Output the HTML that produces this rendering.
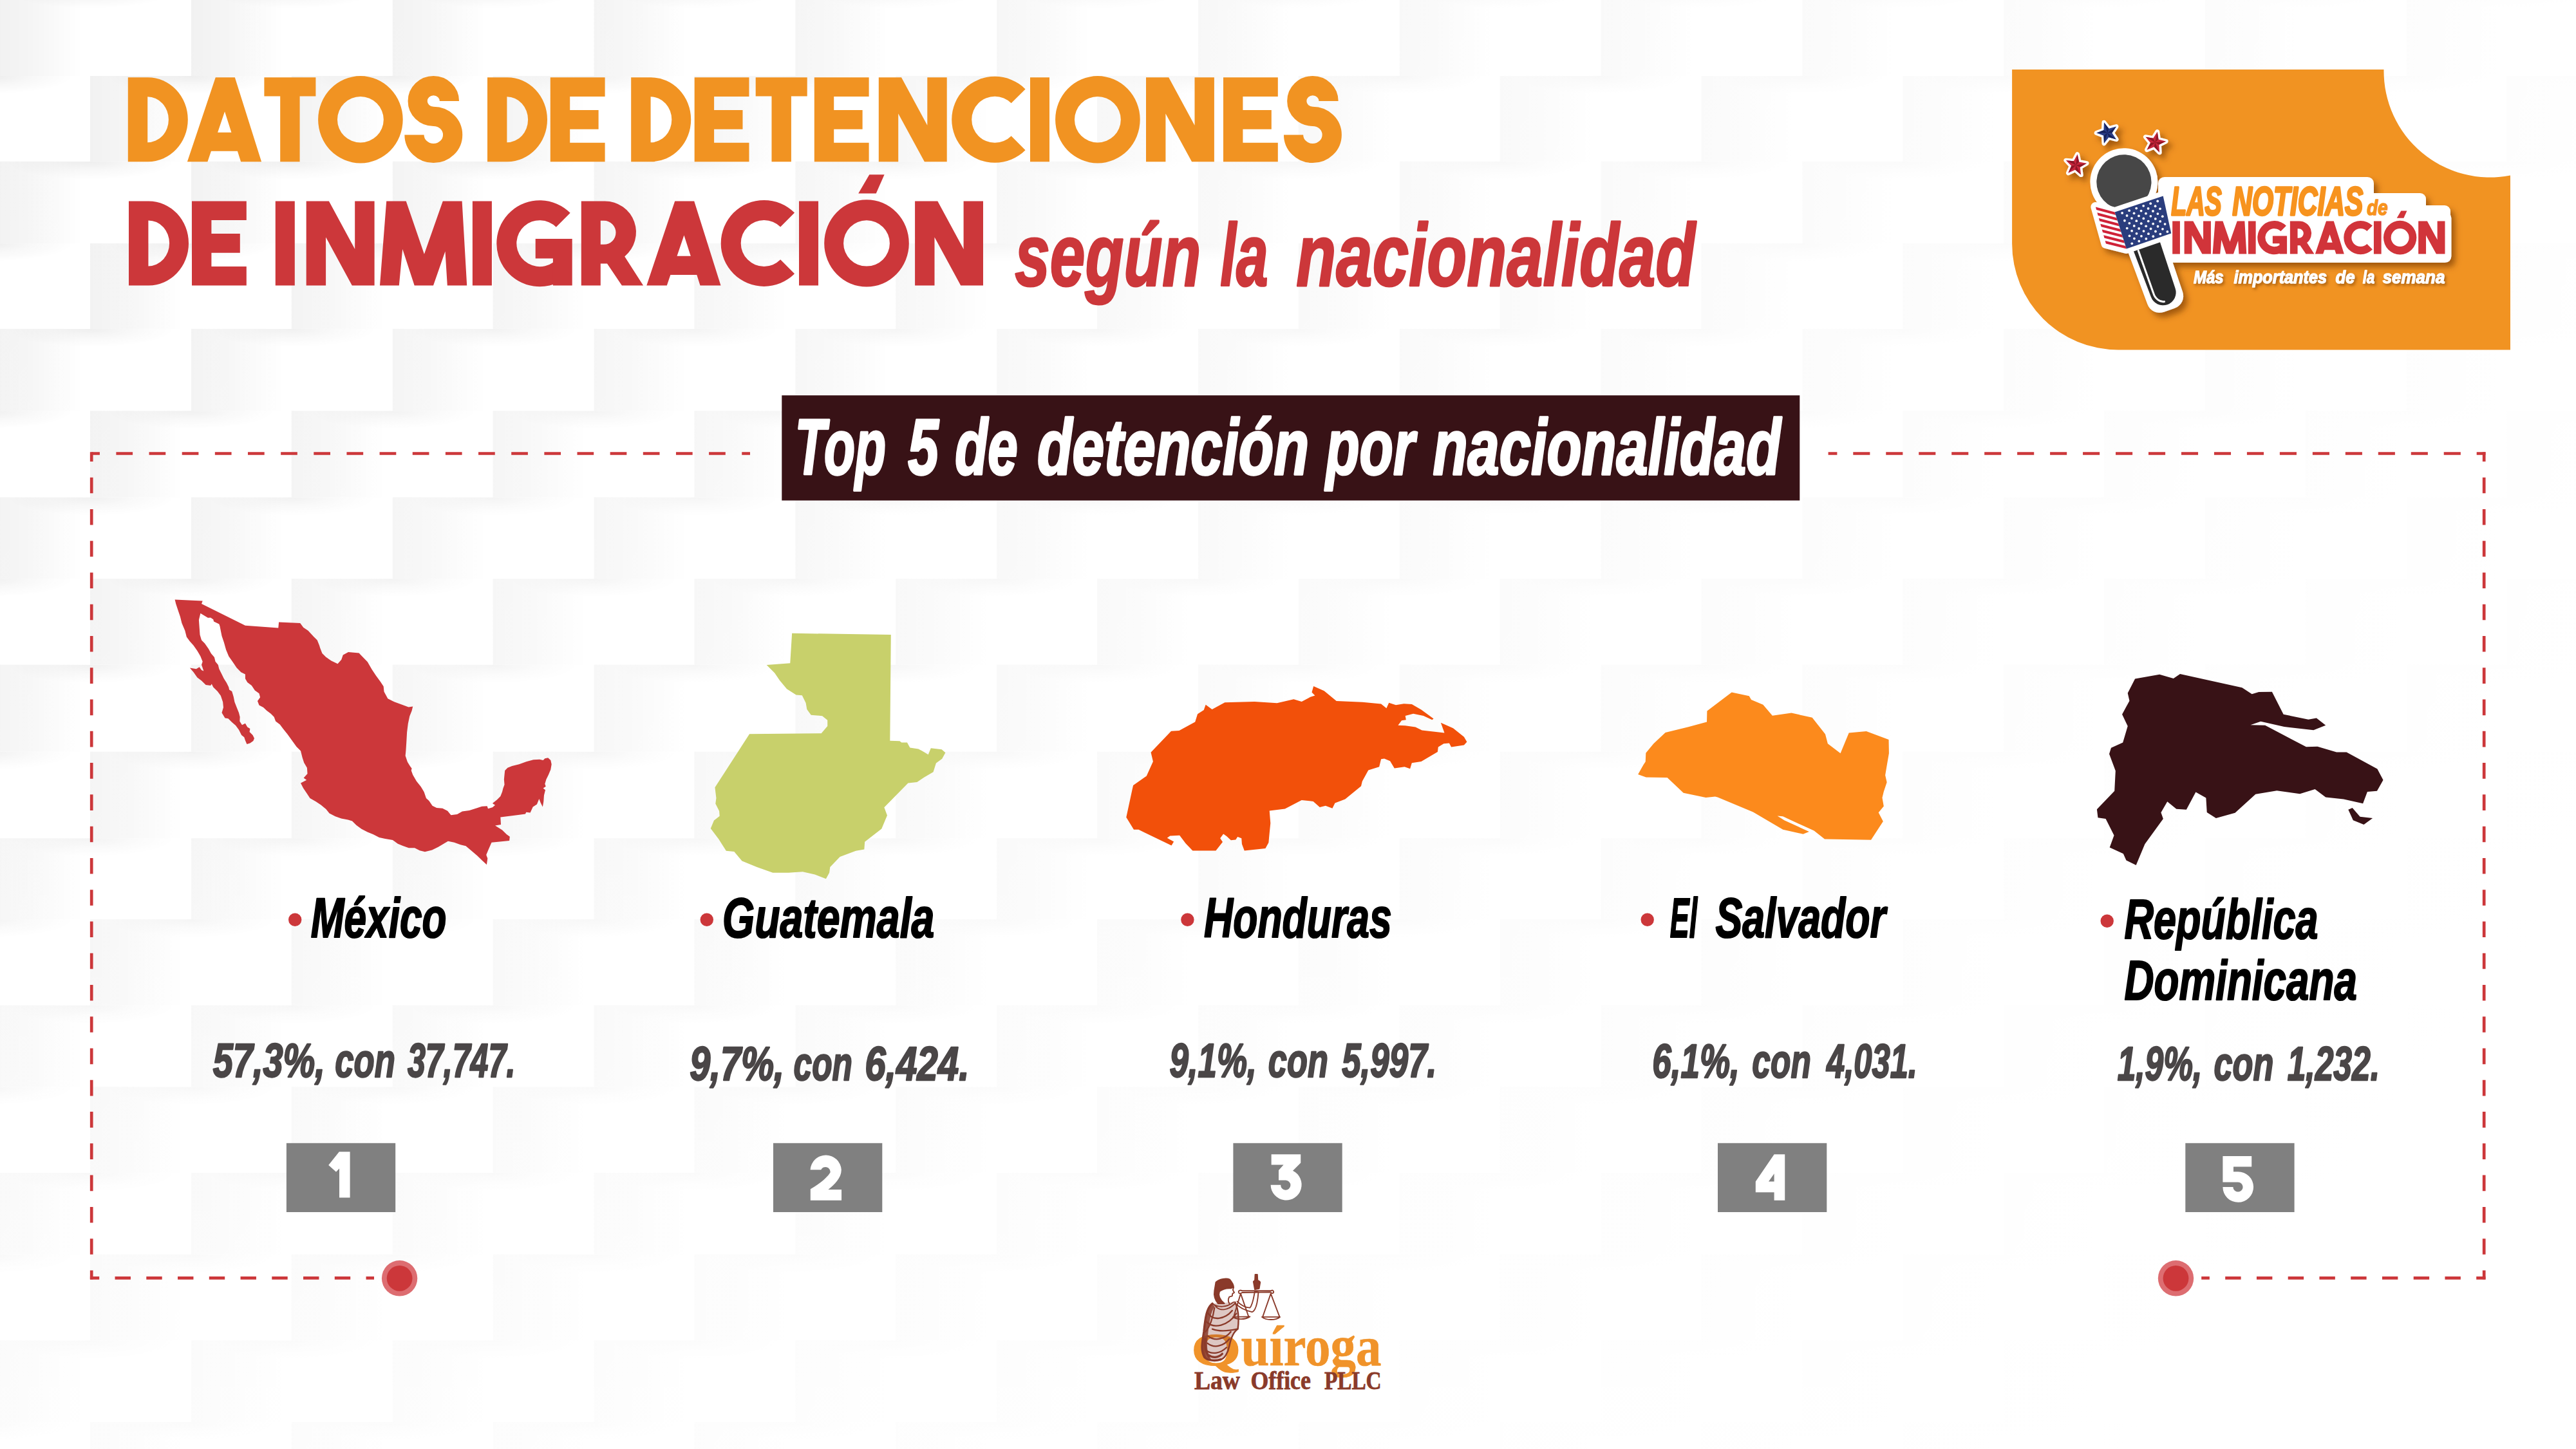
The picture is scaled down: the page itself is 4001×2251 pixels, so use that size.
<!DOCTYPE html>
<html lang="es"><head><meta charset="utf-8"><title>Datos de detenciones de inmigración</title>
<style>
html,body{margin:0;padding:0;background:#fff;}
body{width:4001px;height:2251px;overflow:hidden;font-family:"Liberation Sans",sans-serif;}
svg{display:block;}
</style></head><body>
<svg width="4001" height="2251" viewBox="0 0 4001 2251">
<defs>
<linearGradient id="gh" x1="0" y1="0" x2="1" y2="0"><stop offset="0" stop-color="#000" stop-opacity="0.058"/><stop offset="0.2" stop-color="#000" stop-opacity="0.04"/><stop offset="0.46" stop-color="#000" stop-opacity="0"/></linearGradient>
<radialGradient id="gr" cx="0.5" cy="0" r="0.5" gradientTransform="translate(0.5 0) scale(1 0.9) translate(-0.5 0)"><stop offset="0" stop-color="#000" stop-opacity="0.075"/><stop offset="0.5" stop-color="#000" stop-opacity="0.03"/><stop offset="1" stop-color="#000" stop-opacity="0"/></radialGradient>
<linearGradient id="gfade" gradientUnits="userSpaceOnUse" x1="0" y1="0" x2="3100" y2="2500"><stop offset="0" stop-color="#fff" stop-opacity="0"/><stop offset="0.3" stop-color="#fff" stop-opacity="0.42"/><stop offset="0.6" stop-color="#fff" stop-opacity="0.74"/><stop offset="0.85" stop-color="#fff" stop-opacity="0.93"/><stop offset="1" stop-color="#fff" stop-opacity="1"/></linearGradient>
<linearGradient id="gfade2" gradientUnits="userSpaceOnUse" x1="0" y1="1200" x2="0" y2="2251"><stop offset="0" stop-color="#fff" stop-opacity="0"/><stop offset="1" stop-color="#fff" stop-opacity="0.55"/></linearGradient>
<pattern id="pA" patternUnits="userSpaceOnUse" x="140" y="0" width="312.8" height="200"><rect width="312.8" height="200" fill="url(#gh)"/><rect x="26.4" y="0" width="260" height="62" fill="url(#gr)"/></pattern>
<pattern id="pB" patternUnits="userSpaceOnUse" x="297" y="0" width="312.8" height="200"><rect width="312.8" height="200" fill="url(#gh)"/><rect x="26.4" y="0" width="260" height="62" fill="url(#gr)"/></pattern>
</defs>
<rect width="4001" height="2251" fill="#fff"/>
<rect transform="translate(0,-15)" width="4001" height="133" fill="url(#pB)"/>
<rect transform="translate(0,118)" width="4001" height="132.8" fill="url(#pA)"/>
<rect transform="translate(0,250.8)" width="4001" height="127.3" fill="url(#pB)"/>
<rect transform="translate(0,378.1)" width="4001" height="132.8" fill="url(#pA)"/>
<rect transform="translate(0,510.9)" width="4001" height="127.3" fill="url(#pB)"/>
<rect transform="translate(0,638.2)" width="4001" height="134.3" fill="url(#pA)"/>
<rect transform="translate(0,772.5)" width="4001" height="126.6" fill="url(#pB)"/>
<rect transform="translate(0,899.1)" width="4001" height="133.5" fill="url(#pA)"/>
<rect transform="translate(0,1032.6)" width="4001" height="135.1" fill="url(#pB)"/>
<rect transform="translate(0,1167.7)" width="4001" height="134.5" fill="url(#pA)"/>
<rect transform="translate(0,1302.2)" width="4001" height="125.9" fill="url(#pB)"/>
<rect transform="translate(0,1428.1)" width="4001" height="133.6" fill="url(#pA)"/>
<rect transform="translate(0,1561.7)" width="4001" height="126.7" fill="url(#pB)"/>
<rect transform="translate(0,1688.4)" width="4001" height="133.6" fill="url(#pA)"/>
<rect transform="translate(0,1822)" width="4001" height="126.7" fill="url(#pB)"/>
<rect transform="translate(0,1948.7)" width="4001" height="133.6" fill="url(#pA)"/>
<rect transform="translate(0,2082.3)" width="4001" height="126.7" fill="url(#pB)"/>
<rect transform="translate(0,2209)" width="4001" height="134" fill="url(#pA)"/>
<rect width="4001" height="2251" fill="url(#gfade)"/>
<rect width="4001" height="2251" fill="url(#gfade2)"/>

<path transform="translate(198.8,120.3) scale(1)" d="M0,0H31A62,65.5 0 0 1 31,131H0Z M30.4,30A32.7,35.5 0 0 1 30.4,101Z" fill="#f19322" fill-rule="evenodd"/>
<path transform="translate(290.9,120.3) scale(1)" d="M0,131 L43.9,0 L73.9,0 L115.2,131 L83.2,131 L77.98,114.5 L37.05,114.5 L31.5,131Z M58.14,53 L68.5,85.4 L47.2,85.4Z" fill="#f19322" fill-rule="evenodd"/>
<path transform="translate(410.4,120.3) scale(1)" d="M0,0H80V29.3H55.2V131H24.8V29.3H0Z" fill="#f19322" fill-rule="evenodd"/>
<path transform="translate(494.1,120.3) scale(1)" d="M65.8,-2.2A65.8,67.7 0 1 1 65.8,133.2A65.8,67.7 0 1 1 65.8,-2.2Z M65.8,29.8A35.9,35.7 0 1 0 65.8,101.2A35.9,35.7 0 1 0 65.8,29.8Z" fill="#f19322" fill-rule="evenodd"/>
<path transform="translate(628.3,120.3) scale(1)" d="M69.65,36.7A24.65,23.8 0 1 0 45,60.5A29.85,28.6 0 1 1 15.15,89.1" fill="none" stroke="#f19322" stroke-width="30.2"/>
<path transform="translate(757,120.3) scale(1)" d="M0,0H31A62,65.5 0 0 1 31,131H0Z M30.4,30A32.7,35.5 0 0 1 30.4,101Z" fill="#f19322" fill-rule="evenodd"/>
<path transform="translate(854.8,120.3) scale(1)" d="M0,0H84.8V29.7H30.4V50.6H74.8V80.4H30.4V101.5H84.8V131H0Z" fill="#f19322" fill-rule="evenodd"/>
<path transform="translate(980.2,120.3) scale(1)" d="M0,0H31A62,65.5 0 0 1 31,131H0Z M30.4,30A32.7,35.5 0 0 1 30.4,101Z" fill="#f19322" fill-rule="evenodd"/>
<path transform="translate(1078.7,120.3) scale(1)" d="M0,0H84.8V29.7H30.4V50.6H74.8V80.4H30.4V101.5H84.8V131H0Z" fill="#f19322" fill-rule="evenodd"/>
<path transform="translate(1173.7,120.3) scale(1)" d="M0,0H80V29.3H55.2V131H24.8V29.3H0Z" fill="#f19322" fill-rule="evenodd"/>
<path transform="translate(1264.8,120.3) scale(1)" d="M0,0H84.8V29.7H30.4V50.6H74.8V80.4H30.4V101.5H84.8V131H0Z" fill="#f19322" fill-rule="evenodd"/>
<path transform="translate(1364.8,120.3) scale(1)" d="M0,0H35.2L75.5,74.5V0H105.9V131H71.1L30.4,56.2V131H0Z" fill="#f19322" fill-rule="evenodd"/>
<path transform="translate(1478.7,120.3) scale(1)" d="M113.88,18.12 A67,67 0 1 0 113.88,112.88 L91.96,90.96 A36,36 0 1 1 91.96,40.04 Z" fill="#f19322" fill-rule="evenodd"/>
<path transform="translate(1600,120.3) scale(1)" d="M0,0H30V131H0Z" fill="#f19322" fill-rule="evenodd"/>
<path transform="translate(1639.1,120.3) scale(1)" d="M65.8,-2.2A65.8,67.7 0 1 1 65.8,133.2A65.8,67.7 0 1 1 65.8,-2.2Z M65.8,29.8A35.9,35.7 0 1 0 65.8,101.2A35.9,35.7 0 1 0 65.8,29.8Z" fill="#f19322" fill-rule="evenodd"/>
<path transform="translate(1780,120.3) scale(1)" d="M0,0H35.2L75.5,74.5V0H105.9V131H71.1L30.4,56.2V131H0Z" fill="#f19322" fill-rule="evenodd"/>
<path transform="translate(1900,120.3) scale(1)" d="M0,0H84.8V29.7H30.4V50.6H74.8V80.4H30.4V101.5H84.8V131H0Z" fill="#f19322" fill-rule="evenodd"/>
<path transform="translate(1993.9,120.3) scale(1)" d="M69.65,36.7A24.65,23.8 0 1 0 45,60.5A29.85,28.6 0 1 1 15.15,89.1" fill="none" stroke="#f19322" stroke-width="30.2"/>
<path transform="translate(200,312.4) scale(1)" d="M0,0H31A62,65.5 0 0 1 31,131H0Z M30.4,30A32.7,35.5 0 0 1 30.4,101Z" fill="#cc373a" fill-rule="evenodd"/>
<path transform="translate(298,312.4) scale(1)" d="M0,0H84.8V29.7H30.4V50.6H74.8V80.4H30.4V101.5H84.8V131H0Z" fill="#cc373a" fill-rule="evenodd"/>
<path transform="translate(427.8,312.4) scale(1)" d="M0,0H30V131H0Z" fill="#cc373a" fill-rule="evenodd"/>
<path transform="translate(475.7,312.4) scale(1)" d="M0,0H35.2L75.5,74.5V0H105.9V131H71.1L30.4,56.2V131H0Z" fill="#cc373a" fill-rule="evenodd"/>
<path transform="translate(590,312.4) scale(1)" d="M0,131 L10.2,0 L40.7,0 L68.9,82.3 L97.8,0 L127.6,0 L135.2,131 L104.8,131 L101.5,78 L83,131 L53.7,131 L35.2,74.7 L29.8,131Z" fill="#cc373a" fill-rule="evenodd"/>
<path transform="translate(733.9,312.4) scale(1)" d="M0,0H30V131H0Z" fill="#cc373a" fill-rule="evenodd"/>
<g transform="translate(772,312.4) scale(1)" fill="#cc373a"><clipPath id="gclipt6"><rect x="-5" y="-5" width="121.7" height="141.5"/></clipPath><path clip-path="url(#gclipt6)" d="M113.68,18.42 A67,67 0 1 0 104.73,120.68 L86.95,95.29 A36,36 0 1 1 91.76,40.34 Z"/><path d="M59.7,58.7H116.7V131H86.9V89.1H59.7Z"/></g>
<path transform="translate(902.8,312.4) scale(1)" d="M0,0H36.7A48.5,48.5 0 0 1 67.4,86 L96.3,131H63.1L40.2,97H30V131H0Z M30,30.4H35.2A18.5,18.5 0 0 1 35.2,67.4H30Z" fill="#cc373a" fill-rule="evenodd"/>
<path transform="translate(1004.3,312.4) scale(1)" d="M0,131 L43.9,0 L73.9,0 L115.2,131 L83.2,131 L77.98,114.5 L37.05,114.5 L31.5,131Z M58.14,53 L68.5,85.4 L47.2,85.4Z" fill="#cc373a" fill-rule="evenodd"/>
<path transform="translate(1120.2,312.4) scale(1)" d="M113.88,18.12 A67,67 0 1 0 113.88,112.88 L91.96,90.96 A36,36 0 1 1 91.96,40.04 Z" fill="#cc373a" fill-rule="evenodd"/>
<path transform="translate(1241,312.4) scale(1)" d="M0,0H30V131H0Z" fill="#cc373a" fill-rule="evenodd"/>
<path transform="translate(1280.2,312.4) scale(1)" d="M65.8,-2.2A65.8,67.7 0 1 1 65.8,133.2A65.8,67.7 0 1 1 65.8,-2.2Z M65.8,29.8A35.9,35.7 0 1 0 65.8,101.2A35.9,35.7 0 1 0 65.8,29.8Z" fill="#cc373a" fill-rule="evenodd"/><path transform="translate(1280.2,312.4) scale(1)" d="M53,-11.9 L80.5,-11.9 L93.4,-41.1 L70.1,-41.1Z" fill="#cc373a"/>
<path transform="translate(1421.1,312.4) scale(1)" d="M0,0H35.2L75.5,74.5V0H105.9V131H71.1L30.4,56.2V131H0Z" fill="#cc373a" fill-rule="evenodd"/>
<text x="1576.22" y="444.4" font-family="'Liberation Sans', sans-serif" font-size="137.5" font-weight="bold" font-style="italic" fill="#cc373a" text-anchor="start" textLength="289.1" lengthAdjust="spacingAndGlyphs" stroke="#cc373a" stroke-width="3" stroke-linejoin="round">según</text>
<text x="1895.16" y="444.4" font-family="'Liberation Sans', sans-serif" font-size="137.5" font-weight="bold" font-style="italic" fill="#cc373a" text-anchor="start" textLength="74.43" lengthAdjust="spacingAndGlyphs" stroke="#cc373a" stroke-width="3" stroke-linejoin="round">la</text>
<text x="2013.28" y="444.4" font-family="'Liberation Sans', sans-serif" font-size="137.5" font-weight="bold" font-style="italic" fill="#cc373a" text-anchor="start" textLength="620.04" lengthAdjust="spacingAndGlyphs" stroke="#cc373a" stroke-width="3" stroke-linejoin="round">nacionalidad</text>
<rect x="1214.3" y="614.2" width="1581" height="163.3" fill="#381216"/>
<text x="1234.85" y="737.2" font-family="'Liberation Sans', sans-serif" font-size="122" font-weight="bold" font-style="italic" fill="#ffffff" text-anchor="start" textLength="141.1" lengthAdjust="spacingAndGlyphs" stroke="#ffffff" stroke-width="3.5" stroke-linejoin="round">Top</text>
<text x="1410.3" y="737.2" font-family="'Liberation Sans', sans-serif" font-size="122" font-weight="bold" font-style="italic" fill="#ffffff" text-anchor="start" textLength="47.47" lengthAdjust="spacingAndGlyphs" stroke="#ffffff" stroke-width="3.5" stroke-linejoin="round">5</text>
<text x="1483.24" y="737.2" font-family="'Liberation Sans', sans-serif" font-size="122" font-weight="bold" font-style="italic" fill="#ffffff" text-anchor="start" textLength="97.46" lengthAdjust="spacingAndGlyphs" stroke="#ffffff" stroke-width="3.5" stroke-linejoin="round">de</text>
<text x="1610.97" y="737.2" font-family="'Liberation Sans', sans-serif" font-size="122" font-weight="bold" font-style="italic" fill="#ffffff" text-anchor="start" textLength="422.01" lengthAdjust="spacingAndGlyphs" stroke="#ffffff" stroke-width="3.5" stroke-linejoin="round">detención</text>
<text x="2059.26" y="737.2" font-family="'Liberation Sans', sans-serif" font-size="122" font-weight="bold" font-style="italic" fill="#ffffff" text-anchor="start" textLength="138" lengthAdjust="spacingAndGlyphs" stroke="#ffffff" stroke-width="3.5" stroke-linejoin="round">por</text>
<text x="2225.52" y="737.2" font-family="'Liberation Sans', sans-serif" font-size="122" font-weight="bold" font-style="italic" fill="#ffffff" text-anchor="start" textLength="540.57" lengthAdjust="spacingAndGlyphs" stroke="#ffffff" stroke-width="3.5" stroke-linejoin="round">nacionalidad</text>
<path d="M142.2,704.5H1165" stroke="#cc373a" stroke-width="4.7" fill="none" stroke-dasharray="25.7 25.45" stroke-dashoffset="-38.2"/>
<path d="M3860.5,704.5H2839.6" stroke="#cc373a" stroke-width="4.7" fill="none" stroke-dasharray="26.1 24.87" stroke-dashoffset="12.3"/>
<path d="M142.2,702.2V1987.6" stroke="#cc373a" stroke-width="4.7" fill="none" stroke-dasharray="24.6 24.67" stroke-dashoffset="9.8"/>
<path d="M3858.2,702.2V1987.6" stroke="#cc373a" stroke-width="4.7" fill="none" stroke-dasharray="24.6 24.67" stroke-dashoffset="9.8"/>
<path d="M139.9,1985.4H581" stroke="#cc373a" stroke-width="4.7" fill="none" stroke-dasharray="24.4 24.35" stroke-dashoffset="10.1"/>
<path d="M3860.5,1985.4H3419.2" stroke="#cc373a" stroke-width="4.7" fill="none" stroke-dasharray="24.4 24.35" stroke-dashoffset="10.1"/>
<circle cx="620.6" cy="1985.8" r="27.7" fill="#dd6d71"/><circle cx="620.6" cy="1985.8" r="19.9" fill="#cc373a"/>
<circle cx="3379.5" cy="1985.8" r="27.7" fill="#dd6d71"/><circle cx="3379.5" cy="1985.8" r="19.9" fill="#cc373a"/>
<circle cx="458.2" cy="1428.8" r="10.2" fill="#cc373a"/>
<circle cx="1097.8" cy="1428.8" r="10.2" fill="#cc373a"/>
<circle cx="1844.4" cy="1428.8" r="10.2" fill="#cc373a"/>
<circle cx="2558.7" cy="1428.8" r="10.2" fill="#cc373a"/>
<circle cx="3272.7" cy="1430.8" r="10.2" fill="#cc373a"/>
<text x="482.86" y="1455.5" font-family="'Liberation Sans', sans-serif" font-size="88" font-weight="bold" font-style="italic" fill="#000" text-anchor="start" textLength="210.52" lengthAdjust="spacingAndGlyphs" stroke="#000" stroke-width="2.2" stroke-linejoin="round">México</text>
<text x="1122.08" y="1455.5" font-family="'Liberation Sans', sans-serif" font-size="88" font-weight="bold" font-style="italic" fill="#000" text-anchor="start" textLength="329.27" lengthAdjust="spacingAndGlyphs" stroke="#000" stroke-width="2.2" stroke-linejoin="round">Guatemala</text>
<text x="1870.05" y="1455.5" font-family="'Liberation Sans', sans-serif" font-size="88" font-weight="bold" font-style="italic" fill="#000" text-anchor="start" textLength="291.77" lengthAdjust="spacingAndGlyphs" stroke="#000" stroke-width="2.2" stroke-linejoin="round">Honduras</text>
<text x="2593.7" y="1455.5" font-family="'Liberation Sans', sans-serif" font-size="88" font-weight="bold" font-style="italic" fill="#000" text-anchor="start" textLength="42.42" lengthAdjust="spacingAndGlyphs" stroke="#000" stroke-width="2.2" stroke-linejoin="round">El</text>
<text x="2664.46" y="1455.5" font-family="'Liberation Sans', sans-serif" font-size="88" font-weight="bold" font-style="italic" fill="#000" text-anchor="start" textLength="264.47" lengthAdjust="spacingAndGlyphs" stroke="#000" stroke-width="2.2" stroke-linejoin="round">Salvador</text>
<text x="3299.54" y="1458" font-family="'Liberation Sans', sans-serif" font-size="88" font-weight="bold" font-style="italic" fill="#000" text-anchor="start" textLength="300.88" lengthAdjust="spacingAndGlyphs" stroke="#000" stroke-width="2.2" stroke-linejoin="round">República</text>
<text x="3299.52" y="1552.7" font-family="'Liberation Sans', sans-serif" font-size="88" font-weight="bold" font-style="italic" fill="#000" text-anchor="start" textLength="361.38" lengthAdjust="spacingAndGlyphs" stroke="#000" stroke-width="2.2" stroke-linejoin="round">Dominicana</text>
<text x="330.64" y="1672.5" font-family="'Liberation Sans', sans-serif" font-size="75" font-weight="bold" font-style="italic" fill="#4a4647" text-anchor="start" textLength="174.3" lengthAdjust="spacingAndGlyphs" stroke="#4a4647" stroke-width="2.4" stroke-linejoin="round">57,3%,</text>
<text x="520.22" y="1672.5" font-family="'Liberation Sans', sans-serif" font-size="75" font-weight="bold" font-style="italic" fill="#4a4647" text-anchor="start" textLength="93.64" lengthAdjust="spacingAndGlyphs" stroke="#4a4647" stroke-width="2.4" stroke-linejoin="round">con</text>
<text x="632.9" y="1672.5" font-family="'Liberation Sans', sans-serif" font-size="75" font-weight="bold" font-style="italic" fill="#4a4647" text-anchor="start" textLength="167.44" lengthAdjust="spacingAndGlyphs" stroke="#4a4647" stroke-width="2.4" stroke-linejoin="round">37,747.</text>
<text x="1071.16" y="1678.3" font-family="'Liberation Sans', sans-serif" font-size="75" font-weight="bold" font-style="italic" fill="#4a4647" text-anchor="start" textLength="146.94" lengthAdjust="spacingAndGlyphs" stroke="#4a4647" stroke-width="2.4" stroke-linejoin="round">9,7%,</text>
<text x="1232.56" y="1678.3" font-family="'Liberation Sans', sans-serif" font-size="75" font-weight="bold" font-style="italic" fill="#4a4647" text-anchor="start" textLength="91.45" lengthAdjust="spacingAndGlyphs" stroke="#4a4647" stroke-width="2.4" stroke-linejoin="round">con</text>
<text x="1343.28" y="1678.3" font-family="'Liberation Sans', sans-serif" font-size="75" font-weight="bold" font-style="italic" fill="#4a4647" text-anchor="start" textLength="162.1" lengthAdjust="spacingAndGlyphs" stroke="#4a4647" stroke-width="2.4" stroke-linejoin="round">6,424.</text>
<text x="1816.38" y="1673" font-family="'Liberation Sans', sans-serif" font-size="75" font-weight="bold" font-style="italic" fill="#4a4647" text-anchor="start" textLength="135.44" lengthAdjust="spacingAndGlyphs" stroke="#4a4647" stroke-width="2.4" stroke-linejoin="round">9,1%,</text>
<text x="1969.83" y="1673" font-family="'Liberation Sans', sans-serif" font-size="75" font-weight="bold" font-style="italic" fill="#4a4647" text-anchor="start" textLength="93.01" lengthAdjust="spacingAndGlyphs" stroke="#4a4647" stroke-width="2.4" stroke-linejoin="round">con</text>
<text x="2084.17" y="1673" font-family="'Liberation Sans', sans-serif" font-size="75" font-weight="bold" font-style="italic" fill="#4a4647" text-anchor="start" textLength="147.14" lengthAdjust="spacingAndGlyphs" stroke="#4a4647" stroke-width="2.4" stroke-linejoin="round">5,997.</text>
<text x="2566.21" y="1673.7" font-family="'Liberation Sans', sans-serif" font-size="75" font-weight="bold" font-style="italic" fill="#4a4647" text-anchor="start" textLength="135.61" lengthAdjust="spacingAndGlyphs" stroke="#4a4647" stroke-width="2.4" stroke-linejoin="round">6,1%,</text>
<text x="2721.36" y="1673.7" font-family="'Liberation Sans', sans-serif" font-size="75" font-weight="bold" font-style="italic" fill="#4a4647" text-anchor="start" textLength="91.45" lengthAdjust="spacingAndGlyphs" stroke="#4a4647" stroke-width="2.4" stroke-linejoin="round">con</text>
<text x="2837.06" y="1673.7" font-family="'Liberation Sans', sans-serif" font-size="75" font-weight="bold" font-style="italic" fill="#4a4647" text-anchor="start" textLength="140.86" lengthAdjust="spacingAndGlyphs" stroke="#4a4647" stroke-width="2.4" stroke-linejoin="round">4,031.</text>
<text x="3288.63" y="1678.3" font-family="'Liberation Sans', sans-serif" font-size="75" font-weight="bold" font-style="italic" fill="#4a4647" text-anchor="start" textLength="131.76" lengthAdjust="spacingAndGlyphs" stroke="#4a4647" stroke-width="2.4" stroke-linejoin="round">1,9%,</text>
<text x="3438.43" y="1678.3" font-family="'Liberation Sans', sans-serif" font-size="75" font-weight="bold" font-style="italic" fill="#4a4647" text-anchor="start" textLength="93.01" lengthAdjust="spacingAndGlyphs" stroke="#4a4647" stroke-width="2.4" stroke-linejoin="round">con</text>
<text x="3552.63" y="1678.3" font-family="'Liberation Sans', sans-serif" font-size="75" font-weight="bold" font-style="italic" fill="#4a4647" text-anchor="start" textLength="143.48" lengthAdjust="spacingAndGlyphs" stroke="#4a4647" stroke-width="2.4" stroke-linejoin="round">1,232.</text>
<rect x="444.9" y="1775.8" width="169.3" height="107.2" fill="#808080"/>
<rect x="1201" y="1775.8" width="169.3" height="107.2" fill="#808080"/>
<rect x="1915.4" y="1775.8" width="169.3" height="107.2" fill="#808080"/>
<rect x="2668" y="1775.8" width="169.3" height="107.2" fill="#808080"/>
<rect x="3394.3" y="1775.8" width="169.3" height="107.2" fill="#808080"/>
<path transform="translate(440,1770) scale(0.08)" d="M1085,240H1295V1132H1088V565L1025,632L878,500Z" fill="#fff" fill-rule="evenodd"/>
<path transform="translate(1196,1770) scale(0.08)" d="M782,590A302,302 0 0 1 1385,590C1385,750 1250,880 1130,975H1388V1185H785V965C930,880 1100,760 1170,640A95,95 0 0 0 990,590Z" fill="#fff" fill-rule="evenodd"/>
<path transform="translate(1910,1770) scale(0.08)" d="M808,290H1378V455L1225,610A300,300 0 1 1 795,885H990A95,95 0 1 0 1088,795H950V600L1045,495H808Z" fill="#fff" fill-rule="evenodd"/>
<path transform="translate(2662,1770) scale(0.08)" d="M1170,290H1378V1185H1170V1028H810V820Z M1170,665V820H1062Z" fill="#fff" fill-rule="evenodd"/>
<path transform="translate(3388,1770) scale(0.08)" d="M805,325H1365V530H1012V627H1100A298,298 0 1 1 805,925H1005A95,95 0 1 0 1100,830H805Z" fill="#fff" fill-rule="evenodd"/>
<path d="M271.62,931.62 L314.69,933.61 L313.03,937.92 L380.93,971.7 L432.27,975.51 L433.1,966.4 L466.23,968.06 L471.19,974.69 L478.65,979.65 L486.93,988.76 L492.72,994.56 L496.04,1002.84 L497.14,1006.62 L500.45,1014.91 L506.25,1020.7 L514.53,1026.5 L524.47,1031.14 L530.26,1024.84 L532.75,1017.39 L541.03,1012.92 L557.59,1014.57 L562.56,1019.87 L570.84,1028.16 L577.46,1039.75 L584.09,1049.69 L590.71,1058.79 L595.68,1066.25 L596.51,1074.53 L602.31,1085.29 L612.24,1090.26 L623.84,1094.4 L634.6,1098.54 L641.23,1097.38 L639.57,1104.34 L636.26,1112.62 L633.77,1124.21 L632.12,1137.46 L631.29,1152.37 L630.46,1165.62 L629.63,1173.9 L632.94,1183.84 L637.09,1190.46 L639.57,1193.77 L638.74,1197.09 L641.23,1203.71 L647.02,1213.65 L653.65,1221.93 L658.62,1230.21 L661.93,1239.98 L666.34,1243.91 L671.58,1251.78 L678.14,1255.06 L687.31,1255.71 L695.18,1259.65 L700.43,1266.2 L710,1264.89 L717.97,1260.42 L729.01,1259.04 L740.06,1255.59 L748.34,1252.83 L756.62,1252.14 L758,1256.28 L764.9,1254.21 L769.04,1250.76 L764.9,1248 L771.8,1242.48 L777.32,1236.96 L780.08,1230.06 L781.46,1224.53 L783.53,1219.01 L782.84,1210.73 L783.53,1203.83 L784.22,1196.93 L788.36,1192.79 L795.27,1190.03 L806.31,1187.27 L817.35,1183.13 L828.39,1180.37 L838.05,1179.68 L843.57,1181.06 L846.34,1178.3 L851.17,1177.33 L855.31,1181.06 L856.69,1187.27 L855.31,1195.55 L851.86,1203.83 L848.41,1210.73 L846.34,1217.63 L847.72,1221.77 L843.57,1224.53 L847.03,1227.29 L844.96,1235.58 L844.27,1245.24 L842.88,1253.52 L839.43,1246.62 L837.36,1241.1 L833.91,1249.38 L827.7,1253.52 L823.56,1262.49 L817.35,1261.8 L815.97,1264.56 L804.93,1265.94 L777.32,1269.39 L778.01,1281.12 L769.04,1282.51 L780.08,1289.41 L786.98,1296.31 L791.82,1299.76 L791.12,1305.97 L778.7,1307.35 L763.52,1308.73 L758.69,1319.77 L755.24,1328.05 L757.31,1333.57 L755.93,1343.24 L748.34,1336.34 L741.44,1329.43 L731.77,1321.15 L723.49,1314.25 L715.21,1312.18 L705.55,1308.73 L695.89,1306.66 L690.37,1310.11 L680.7,1315.63 L671.04,1320.46 L660,1323.22 L651.91,1321.27 L644.05,1317.34 L634.87,1317.34 L625.69,1314.06 L617.82,1310.78 L609.96,1304.88 L598.16,1302.91 L588.98,1300.95 L579.8,1296.36 L570.62,1292.42 L561.45,1287.84 L553.58,1281.94 L547.02,1275.38 L540.47,1273.41 L529.98,1271.45 L520.8,1268.17 L511.62,1263.58 L506.38,1257.02 L498.51,1250.47 L490.65,1245.22 L481.47,1239.98 L476.22,1232.11 L470.98,1224.25 L467.04,1216.38 L476.22,1211.79 L471.63,1208.51 L477.53,1201.96 L476.88,1192.78 L472.29,1184.91 L469.67,1177.04 L467.04,1166.56 L460.49,1160 L454.91,1152.37 L446.62,1140.78 L440,1132.49 L434.76,1125.4 L428.13,1120.43 L425.65,1113.8 L420.68,1108.84 L414.06,1103.87 L409.09,1098.9 L402.46,1095.59 L399.98,1088.96 L404.12,1083.16 L402.46,1077.37 L395.84,1072.4 L390.87,1064.95 L384.24,1059.98 L380.93,1054.18 L380.93,1047.56 L374.31,1044.24 L367.68,1037.62 L361.06,1027.68 L355.26,1019.4 L351.12,1009.47 L347.81,997.87 L344.5,987.93 L342.84,979.65 L341.52,973.03 L340.36,969.39 L332.08,965.58 L331.25,962.26 L327.11,959.45 L322.97,959.78 L311.37,952.82 L308.89,963.09 L309.72,974.69 L310.54,986.28 L313.03,994.56 L318,999.53 L323.79,1007.81 L327.93,1015.26 L332.9,1021.06 L334.56,1027.68 L338.7,1032.65 L340.36,1039.28 L344.5,1047.56 L347.81,1054.18 L351.95,1060.81 L355.26,1067.43 L356.09,1071.57 L360.23,1074.06 L362.71,1082.34 L364.37,1090.62 L367.68,1098.9 L371,1107.18 L372.65,1113.8 L372.32,1120.43 L375.96,1126.23 L380.93,1123.74 L384.24,1129.54 L388.39,1132.02 L387.56,1136.99 L392.53,1141.96 L395.01,1146.93 L393.35,1151.07 L388.39,1154.38 L383.42,1156.04 L380.93,1150.24 L379.28,1145.27 L375.14,1141.96 L371,1133.68 L366.03,1127.05 L360.23,1122.09 L354.43,1116.29 L349.47,1115.46 L344.5,1107.18 L346.98,1098.9 L346.15,1090.62 L342.84,1080.68 L337.87,1074.06 L331.25,1067.43 L328.76,1062.46 L327.11,1064.95 L319.65,1064.12 L313.03,1057.49 L306.4,1052.53 L300.61,1044.24 L294.81,1037.62 L304.75,1039.28 L309.72,1036.3 L313.03,1040.93 L316.34,1042.59 L314.69,1037.62 L313.03,1032.65 L314.69,1027.68 L311.37,1019.4 L306.4,1011.12 L300.61,1002.84 L294.81,996.22 L289.84,989.59 L287.36,979.65 L282.39,968.06 L279.91,958.12 L276.59,948.19 L273.28,938.25Z" fill="#cc373a"/>
<path d="M1230.14,983.77 L1383.77,986.09 L1382.32,1150.72 L1397.39,1151.3 L1400.29,1153.62 L1408.99,1153.62 L1413.33,1161.45 L1426.38,1163.48 L1432.17,1166.38 L1441.74,1172.17 L1445.8,1162.32 L1462.61,1164.35 L1468.41,1169.28 L1463.19,1178.84 L1453.91,1185.51 L1449.57,1199.13 L1435.07,1207.83 L1424.35,1215.07 L1410.43,1216.52 L1373.33,1254.2 L1377.97,1266.67 L1369.28,1287.54 L1343.19,1307.83 L1342.32,1319.42 L1329.28,1321.74 L1304.64,1331.01 L1289.28,1346.96 L1288.12,1355.65 L1282.9,1365.22 L1265.51,1358.55 L1246.67,1354.2 L1224.93,1355.65 L1200.29,1355.65 L1175.65,1346.96 L1152.46,1337.39 L1140.29,1322.9 L1127.83,1321.74 L1116.23,1303.48 L1103.77,1286.96 L1108.99,1274.49 L1117.68,1267.83 L1117.1,1260 L1111.3,1248.41 L1112.46,1239.71 L1110.43,1223.19 L1164.06,1140.29 L1275.65,1139.13 L1285.22,1128.12 L1285.22,1118.84 L1277.1,1112.17 L1259.71,1110.72 L1253.33,1102.03 L1251.59,1091.88 L1245.8,1080.29 L1236.52,1079.42 L1222.03,1070.14 L1211.01,1057.1 L1203.19,1045.51 L1190.72,1033.04 L1227.25,1030.14Z" fill="#c8d06b"/>
<path d="M1787.55,1168.79 L1819.07,1135.69 L1831.45,1135.02 L1856.22,1121.51 L1860.05,1109.35 L1869.73,1103.04 L1872.65,1094.71 L1882.56,1101.92 L1902.37,1091.34 L1948.53,1089.98 L1983.43,1092.24 L2009.32,1086.16 L2021.71,1089.98 L2035.22,1082.78 L2042.42,1080.53 L2037.47,1075.57 L2040.17,1065.89 L2056.61,1073.32 L2075.74,1089.08 L2116.27,1090.66 L2145.09,1093.59 L2153.42,1100.34 L2157.25,1091.79 L2168.06,1095.16 L2180.44,1093.14 L2192.82,1094.04 L2207.46,1102.59 L2226.6,1116.55 L2224.35,1118.35 L2210.84,1112.05 L2195.08,1108.67 L2182.69,1112.05 L2183.82,1118.35 L2177.06,1119.25 L2171.43,1126.68 L2182.69,1127.36 L2198.45,1129.61 L2208.58,1134.56 L2243.48,1138.62 L2237.85,1122.86 L2256.99,1131.19 L2273.88,1144.7 L2278.38,1152.58 L2273.88,1157.53 L2254.07,1160.46 L2250.91,1154.38 L2242.36,1155.28 L2233.8,1160.46 L2232.9,1167.89 L2207.46,1182.97 L2192.82,1185.22 L2190.12,1194.23 L2181.57,1191.3 L2165.81,1193.56 L2159.05,1182.3 L2150.04,1178.47 L2145.09,1179.15 L2142.16,1191.3 L2125.28,1196.48 L2115.82,1213.82 L2114.02,1221.25 L2089.25,1241.51 L2073.49,1247.59 L2069.44,1255.7 L2058.86,1251.64 L2049.85,1253.9 L2039.72,1244.89 L2021.71,1243.09 L1995.81,1256.6 L1971.72,1259.53 L1973.3,1278.66 L1971.72,1294.42 L1970.37,1309.06 L1965.42,1318.07 L1932.77,1321.44 L1928.94,1311.31 L1928.27,1302.3 L1922.19,1300.05 L1919.26,1304.56 L1911.83,1305.23 L1905.08,1298.93 L1900.12,1295.55 L1895.17,1302.3 L1899,1307.93 L1888.42,1321.44 L1852.39,1321.44 L1841.58,1310.19 L1832.13,1297.8 L1817.27,1298.48 L1812.76,1301.63 L1823.12,1307.48 L1819.52,1313.56 L1768.41,1288.8 L1760.98,1288.8 L1749.27,1269.66 L1758.28,1228 L1760.08,1220.12 L1780.79,1205.49 L1790.92,1182.97Z" fill="#f2500a"/>
<path d="M2544.15,1203.04 L2552.46,1188.16 L2555.75,1183.33 L2556.33,1169.81 L2568.31,1155.31 L2586.67,1137.92 L2622.42,1129.23 L2651.01,1121.5 L2651.4,1104.49 L2689.66,1075.51 L2716.71,1081.3 L2720,1087.1 L2738.36,1094.83 L2752.85,1111.84 L2782.42,1107.58 L2814.69,1114.73 L2825.31,1128.26 L2834.98,1140.43 L2838.84,1155.31 L2858.55,1170.19 L2871.69,1138.5 L2898.74,1135.99 L2933.53,1148.94 L2933.91,1170.19 L2930.63,1189.13 L2928.12,1204.2 L2930.63,1215.22 L2925.8,1229.71 L2923.48,1239.37 L2925.8,1252.51 L2917.68,1262.17 L2924.83,1276.09 L2906.09,1304.69 L2834.01,1303.53 L2817.58,1290.58 L2769.28,1268.36 L2760.58,1267.39 L2771.21,1274.15 L2809.86,1291.93 L2800.58,1295.8 L2769.28,1288.65 L2722.9,1261.59 L2667.83,1238.41 L2663.96,1237.44 L2649.47,1238.99 L2614.69,1231.64 L2589.57,1208.07 L2556.71,1207.49Z" fill="#fc8a1c"/>
<path d="M3316.1,1054.6 L3354.15,1047.77 L3375.79,1053.92 L3386.04,1047.08 L3482.39,1068.27 L3497.65,1078.29 L3508.36,1075.1 L3528.86,1074.65 L3546.63,1109.73 L3585.35,1117.7 L3597.88,1115.42 L3612.23,1126.81 L3593.33,1134.33 L3547.77,1129.09 L3511.32,1120.66 L3495.38,1126.13 L3518.15,1126.81 L3581.94,1160.3 L3599.48,1159.84 L3629.09,1168.5 L3644.58,1168.5 L3692.41,1194.46 L3701.53,1211.78 L3691.96,1228.63 L3676.92,1230 L3670.09,1248.22 L3640.02,1241.39 L3612.23,1238.43 L3595.6,1225.9 L3572.14,1233.19 L3536.38,1228.18 L3503.35,1233.87 L3471.46,1262.8 L3441.85,1271 L3427.72,1261.89 L3426.36,1239.57 L3410.41,1230.46 L3395.83,1257.79 L3380.34,1256.65 L3366.22,1245.26 L3356.42,1262.35 L3359.84,1271.91 L3331.37,1311.32 L3317.7,1343.9 L3302.44,1336.38 L3297.88,1326.13 L3276.7,1316.56 L3283.53,1297.65 L3270.55,1271.91 L3258.47,1270.32 L3256.88,1257.33 L3284.21,1228.63 L3285.81,1197.43 L3276.01,1171.23 L3278.97,1161.66 L3297.2,1153.46 L3304.72,1127.95 L3296.06,1109.73 L3307.45,1088.77 L3304.72,1076.7Z M3647.31,1257.79 L3653.69,1255.06 L3665.54,1268.72 L3685.13,1271 L3671.46,1281.03 L3654.83,1274.19Z" fill="#381216"/>
<defs><filter id="lsh" x="-10%" y="-10%" width="125%" height="130%"><feDropShadow dx="6" dy="7" stdDeviation="5" flood-color="#6e3200" flood-opacity="0.6"/></filter><filter id="tsh" x="-5%" y="-30%" width="112%" height="180%"><feDropShadow dx="2.5" dy="3" stdDeviation="2" flood-color="#7a3a00" flood-opacity="0.6"/></filter></defs>
<path d="M3125.1,108.1H3702.5A165,165 0 0 0 3899,272.5V543.5H3290.1A165,165 0 0 1 3125.1,378.5Z" fill="#f19322"/>
<g filter="url(#lsh)">
<g fill="#fff">
<rect x="3352" y="274.9" width="335" height="80" rx="10"/>
<rect x="3600" y="300" width="168" height="60" rx="9"/>
<rect x="3700" y="319" width="106" height="40" rx="9"/>
<rect x="3352" y="329" width="455.4" height="79.1" rx="10"/>
</g>
<path d="M3267.95,190.33 L3275.41,199.71 L3286.95,196.51 L3280.34,206.5 L3286.95,216.49 L3275.41,213.29 L3267.95,222.67 L3267.42,210.7 L3256.2,206.5 L3267.42,202.3Z" fill="#fff" stroke="#fff" stroke-width="7" stroke-linejoin="round"/><path d="M3267.95,190.33 L3275.41,199.71 L3286.95,196.51 L3280.34,206.5 L3286.95,216.49 L3275.41,213.29 L3267.95,222.67 L3267.42,210.7 L3256.2,206.5 L3267.42,202.3Z" fill="#2a3c86"/><path d="M3267.95,190.33 L3275.41,199.71 L3273.2,206.5Z" fill="#16205a"/><path d="M3286.95,196.51 L3280.34,206.5 L3273.2,206.5Z" fill="#16205a"/><path d="M3286.95,216.49 L3275.41,213.29 L3273.2,206.5Z" fill="#16205a"/><path d="M3267.95,222.67 L3267.42,210.7 L3273.2,206.5Z" fill="#16205a"/><path d="M3256.2,206.5 L3267.42,202.3 L3273.2,206.5Z" fill="#16205a"/>
<path d="M3350.73,204.67 L3352.51,216.52 L3364.11,219.52 L3353.38,224.87 L3354.11,236.83 L3345.72,228.28 L3334.57,232.68 L3340.1,222.05 L3332.48,212.8 L3344.3,214.78Z" fill="#fff" stroke="#fff" stroke-width="7" stroke-linejoin="round"/><path d="M3350.73,204.67 L3352.51,216.52 L3364.11,219.52 L3353.38,224.87 L3354.11,236.83 L3345.72,228.28 L3334.57,232.68 L3340.1,222.05 L3332.48,212.8 L3344.3,214.78Z" fill="#c8283c"/><path d="M3350.73,204.67 L3352.51,216.52 L3347.2,221.3Z" fill="#8e1426"/><path d="M3364.11,219.52 L3353.38,224.87 L3347.2,221.3Z" fill="#8e1426"/><path d="M3354.11,236.83 L3345.72,228.28 L3347.2,221.3Z" fill="#8e1426"/><path d="M3334.57,232.68 L3340.1,222.05 L3347.2,221.3Z" fill="#8e1426"/><path d="M3332.48,212.8 L3344.3,214.78 L3347.2,221.3Z" fill="#8e1426"/>
<path d="M3226.57,239.77 L3229.16,251.46 L3240.94,253.65 L3230.62,259.73 L3232.18,271.61 L3223.21,263.67 L3212.39,268.83 L3217.17,257.84 L3208.92,249.15 L3220.85,250.3Z" fill="#fff" stroke="#fff" stroke-width="7" stroke-linejoin="round"/><path d="M3226.57,239.77 L3229.16,251.46 L3240.94,253.65 L3230.62,259.73 L3232.18,271.61 L3223.21,263.67 L3212.39,268.83 L3217.17,257.84 L3208.92,249.15 L3220.85,250.3Z" fill="#c8283c"/><path d="M3226.57,239.77 L3229.16,251.46 L3224.2,256.6Z" fill="#8e1426"/><path d="M3240.94,253.65 L3230.62,259.73 L3224.2,256.6Z" fill="#8e1426"/><path d="M3232.18,271.61 L3223.21,263.67 L3224.2,256.6Z" fill="#8e1426"/><path d="M3212.39,268.83 L3217.17,257.84 L3224.2,256.6Z" fill="#8e1426"/><path d="M3208.92,249.15 L3220.85,250.3 L3224.2,256.6Z" fill="#8e1426"/>
<g transform="translate(3298.9,282.8) rotate(-19.5)">
<circle r="52.5" fill="#fff"/>
<path d="M-31,60 L-29,191 A20,20 0 0 0 -9,211 H9 A20,20 0 0 0 29,191 L31,60Z" fill="#fff"/>
<path d="M-22.5,70 L-20,182 A20,20 0 0 0 0,202 A20,20 0 0 0 20,182 L22.5,70Z" fill="#2b2b2b"/>
<path d="M-14.5,108 V178 A14.5,17 0 0 0 -3,196" fill="none" stroke="#fff" stroke-width="3" stroke-linecap="round"/>
<circle r="42.6" fill="#464646"/>
</g>
<path d="M3254.9,321.5 L3284.6,329.5 L3359.7,304.4 L3372.3,362.5 L3302.8,386.4 L3270.9,378.5Z" fill="#fff" stroke="#fff" stroke-width="15" stroke-linejoin="round"/>
<path d="M3254.9,321.5 L3284.6,329.5 L3286,333.88 L3256.13,325.88Z" fill="#cf2239"/>
<path d="M3257.36,330.27 L3287.4,338.25 L3288.8,342.63 L3258.59,334.65Z" fill="#cf2239"/>
<path d="M3259.82,339.04 L3290.2,347.01 L3291.6,351.38 L3261.05,343.42Z" fill="#cf2239"/>
<path d="M3262.28,347.81 L3293,355.76 L3294.4,360.14 L3263.52,352.19Z" fill="#cf2239"/>
<path d="M3264.75,356.58 L3295.8,364.52 L3297.2,368.89 L3265.98,360.96Z" fill="#cf2239"/>
<path d="M3267.21,365.35 L3298.6,373.27 L3300,377.65 L3268.44,369.73Z" fill="#cf2239"/>
<path d="M3269.67,374.12 L3301.4,382.02 L3302.8,386.4 L3270.9,378.5Z" fill="#cf2239"/>
<path d="M3284.6,329.5 L3359.7,304.4 L3372.3,362.5 L3302.8,386.4Z" fill="#2b3d7d"/>
<g fill="#fff"><circle cx="3296.13" cy="330.89" r="1.9"/><circle cx="3307.14" cy="327.21" r="1.9"/><circle cx="3318.16" cy="323.53" r="1.9"/><circle cx="3329.17" cy="319.85" r="1.9"/><circle cx="3340.19" cy="316.17" r="1.9"/><circle cx="3351.2" cy="312.49" r="1.9"/><circle cx="3303.53" cy="334.98" r="1.9"/><circle cx="3314.55" cy="331.3" r="1.9"/><circle cx="3325.56" cy="327.62" r="1.9"/><circle cx="3336.58" cy="323.94" r="1.9"/><circle cx="3347.59" cy="320.26" r="1.9"/><circle cx="3299.92" cy="342.75" r="1.9"/><circle cx="3310.94" cy="339.07" r="1.9"/><circle cx="3321.95" cy="335.39" r="1.9"/><circle cx="3332.97" cy="331.71" r="1.9"/><circle cx="3343.98" cy="328.02" r="1.9"/><circle cx="3354.99" cy="324.34" r="1.9"/><circle cx="3307.32" cy="346.84" r="1.9"/><circle cx="3318.34" cy="343.15" r="1.9"/><circle cx="3329.35" cy="339.47" r="1.9"/><circle cx="3340.37" cy="335.79" r="1.9"/><circle cx="3351.38" cy="332.11" r="1.9"/><circle cx="3303.71" cy="354.6" r="1.9"/><circle cx="3314.73" cy="350.92" r="1.9"/><circle cx="3325.74" cy="347.24" r="1.9"/><circle cx="3336.76" cy="343.56" r="1.9"/><circle cx="3347.77" cy="339.88" r="1.9"/><circle cx="3358.79" cy="336.2" r="1.9"/><circle cx="3311.12" cy="358.69" r="1.9"/><circle cx="3322.13" cy="355.01" r="1.9"/><circle cx="3333.15" cy="351.33" r="1.9"/><circle cx="3344.16" cy="347.65" r="1.9"/><circle cx="3355.18" cy="343.96" r="1.9"/><circle cx="3307.51" cy="366.46" r="1.9"/><circle cx="3318.52" cy="362.78" r="1.9"/><circle cx="3329.53" cy="359.09" r="1.9"/><circle cx="3340.55" cy="355.41" r="1.9"/><circle cx="3351.56" cy="351.73" r="1.9"/><circle cx="3362.58" cy="348.05" r="1.9"/><circle cx="3314.91" cy="370.54" r="1.9"/><circle cx="3325.92" cy="366.86" r="1.9"/><circle cx="3336.94" cy="363.18" r="1.9"/><circle cx="3347.95" cy="359.5" r="1.9"/><circle cx="3358.97" cy="355.82" r="1.9"/><circle cx="3311.3" cy="378.31" r="1.9"/><circle cx="3322.31" cy="374.63" r="1.9"/><circle cx="3333.33" cy="370.95" r="1.9"/><circle cx="3344.34" cy="367.27" r="1.9"/><circle cx="3355.36" cy="363.59" r="1.9"/><circle cx="3366.37" cy="359.9" r="1.9"/></g>
</g>
<text x="3372.32" y="333.6" font-family="'Liberation Sans', sans-serif" font-size="63.7" font-weight="bold" font-style="italic" fill="#f7931e" textLength="78.48" lengthAdjust="spacingAndGlyphs" stroke="#f7931e" stroke-width="3.4" stroke-linejoin="round">LAS</text>
<text x="3467.35" y="333.6" font-family="'Liberation Sans', sans-serif" font-size="63.7" font-weight="bold" font-style="italic" fill="#f7931e" textLength="202.9" lengthAdjust="spacingAndGlyphs" stroke="#f7931e" stroke-width="3.4" stroke-linejoin="round">NOTICIAS</text>
<text x="3676.37" y="333.6" font-family="'Liberation Sans', sans-serif" font-size="34" font-weight="bold" font-style="italic" fill="#f7931e" textLength="32.28" lengthAdjust="spacingAndGlyphs" stroke="#f7931e" stroke-width="1.6" stroke-linejoin="round">de</text>
<path transform="translate(3374.2,343.5) scale(0.39)" d="M0,0H30V131H0Z" fill="#d1343a" fill-rule="evenodd"/>
<path transform="translate(3392.62,343.5) scale(0.39)" d="M0,0H35.2L75.5,74.5V0H105.9V131H71.1L30.4,56.2V131H0Z" fill="#d1343a" fill-rule="evenodd"/>
<path transform="translate(3436.58,343.5) scale(0.39)" d="M0,131 L10.2,0 L40.7,0 L68.9,82.3 L97.8,0 L127.6,0 L135.2,131 L104.8,131 L101.5,78 L83,131 L53.7,131 L35.2,74.7 L29.8,131Z" fill="#d1343a" fill-rule="evenodd"/>
<path transform="translate(3491.92,343.5) scale(0.39)" d="M0,0H30V131H0Z" fill="#d1343a" fill-rule="evenodd"/>
<g transform="translate(3506.57,343.5) scale(0.39)" fill="#d1343a"><clipPath id="gclipL4"><rect x="-5" y="-5" width="121.7" height="141.5"/></clipPath><path clip-path="url(#gclipL4)" d="M113.68,18.42 A67,67 0 1 0 104.73,120.68 L86.95,95.29 A36,36 0 1 1 91.76,40.34 Z"/><path d="M59.7,58.7H116.7V131H86.9V89.1H59.7Z"/></g>
<path transform="translate(3556.87,343.5) scale(0.39)" d="M0,0H36.7A48.5,48.5 0 0 1 67.4,86 L96.3,131H63.1L40.2,97H30V131H0Z M30,30.4H35.2A18.5,18.5 0 0 1 35.2,67.4H30Z" fill="#d1343a" fill-rule="evenodd"/>
<path transform="translate(3595.9,343.5) scale(0.39)" d="M0,131 L43.9,0 L73.9,0 L115.2,131 L83.2,131 L77.98,114.5 L37.05,114.5 L31.5,131Z M58.14,53 L68.5,85.4 L47.2,85.4Z" fill="#d1343a" fill-rule="evenodd"/>
<path transform="translate(3640.47,343.5) scale(0.39)" d="M113.88,18.12 A67,67 0 1 0 113.88,112.88 L91.96,90.96 A36,36 0 1 1 91.96,40.04 Z" fill="#d1343a" fill-rule="evenodd"/>
<path transform="translate(3686.93,343.5) scale(0.39)" d="M0,0H30V131H0Z" fill="#d1343a" fill-rule="evenodd"/>
<path transform="translate(3702,343.5) scale(0.39)" d="M65.8,-2.2A65.8,67.7 0 1 1 65.8,133.2A65.8,67.7 0 1 1 65.8,-2.2Z M65.8,29.8A35.9,35.7 0 1 0 65.8,101.2A35.9,35.7 0 1 0 65.8,29.8Z" fill="#d1343a" fill-rule="evenodd"/><path transform="translate(3702,343.5) scale(0.39)" d="M53,-11.9 L80.5,-11.9 L93.4,-41.1 L70.1,-41.1Z" fill="#d1343a"/>
<path transform="translate(3756.19,343.5) scale(0.39)" d="M0,0H35.2L75.5,74.5V0H105.9V131H71.1L30.4,56.2V131H0Z" fill="#d1343a" fill-rule="evenodd"/>
<g filter="url(#tsh)">
<text x="3406.97" y="440.4" font-family="'Liberation Sans', sans-serif" font-size="27.5" font-weight="bold" font-style="italic" fill="#fff" textLength="46.63" lengthAdjust="spacingAndGlyphs" stroke="#fff" stroke-width="1.3" stroke-linejoin="round">Más</text>
<text x="3469.47" y="440.4" font-family="'Liberation Sans', sans-serif" font-size="27.5" font-weight="bold" font-style="italic" fill="#fff" textLength="144.55" lengthAdjust="spacingAndGlyphs" stroke="#fff" stroke-width="1.3" stroke-linejoin="round">importantes</text>
<text x="3627.48" y="440.4" font-family="'Liberation Sans', sans-serif" font-size="27.5" font-weight="bold" font-style="italic" fill="#fff" textLength="29.96" lengthAdjust="spacingAndGlyphs" stroke="#fff" stroke-width="1.3" stroke-linejoin="round">de</text>
<text x="3669.82" y="440.4" font-family="'Liberation Sans', sans-serif" font-size="27.5" font-weight="bold" font-style="italic" fill="#fff" textLength="18.37" lengthAdjust="spacingAndGlyphs" stroke="#fff" stroke-width="1.3" stroke-linejoin="round">la</text>
<text x="3700.69" y="440.4" font-family="'Liberation Sans', sans-serif" font-size="27.5" font-weight="bold" font-style="italic" fill="#fff" textLength="96.63" lengthAdjust="spacingAndGlyphs" stroke="#fff" stroke-width="1.3" stroke-linejoin="round">semana</text>
</g>
<text x="1849.91" y="2120.9" font-family="'Liberation Serif', serif" font-size="72" font-weight="bold" fill="#f0932a" textLength="77.55" lengthAdjust="spacingAndGlyphs" stroke="#f0932a" stroke-width="1">Q</text>
<text x="1927.62" y="2120.9" font-family="'Liberation Serif', serif" font-size="88" font-weight="bold" fill="#f0932a" textLength="217.85" lengthAdjust="spacingAndGlyphs" stroke="#f0932a" stroke-width="0.6">uíroga</text>
<text x="1854.94" y="2157.5" font-family="'Liberation Serif', serif" font-size="41" font-weight="bold" fill="#8a3a2a" textLength="71.11" lengthAdjust="spacingAndGlyphs" stroke="#8a3a2a" stroke-width="0.8">Law</text>
<text x="1942.51" y="2157.5" font-family="'Liberation Serif', serif" font-size="41" font-weight="bold" fill="#8a3a2a" textLength="93.36" lengthAdjust="spacingAndGlyphs" stroke="#8a3a2a" stroke-width="0.8">Office</text>
<text x="2056.9" y="2157.5" font-family="'Liberation Serif', serif" font-size="39" font-weight="bold" fill="#8a3a2a" textLength="88.77" lengthAdjust="spacingAndGlyphs" stroke="#8a3a2a" stroke-width="0.8">PLLC</text>
<g transform="translate(1850,1970) scale(0.11)" fill="none" stroke="#8a3a2a" stroke-width="17" stroke-linecap="round" stroke-linejoin="round">
<path d="M350,200C400,150 500,140 545,160C580,200 600,240 600,270L560,285C500,280 440,300 400,330C380,380 400,440 470,500L380,500C330,440 320,380 330,320Z" fill="#8a3a2a"/>
<path d="M600,270L590,310L610,345L585,360L580,395L540,405C520,440 520,470 540,500"/>
<path d="M400,300C460,270 540,265 600,272" stroke-width="16"/>
<path d="M300,500C220,560 200,700 180,900C160,1050 130,1150 190,1260C230,1300 330,1320 420,1290C470,1280 520,1200 540,1100C560,1000 600,900 660,860C680,700 660,560 620,480Z" fill="#8a3a2a" fill-opacity="0.28" stroke="none"/>
<path d="M300,500C220,560 200,700 180,900C160,1050 130,1150 190,1260C215,1290 260,1305 300,1310C230,1230 215,1120 235,980C250,800 270,640 330,540Z" fill="#8a3a2a" fill-opacity="0.85" stroke="none"/>
<path d="M300,500C380,560 500,560 600,480M330,520C400,620 520,600 620,500"/>
<path d="M300,500C220,560 200,700 180,900C160,1050 130,1150 190,1260C230,1300 330,1320 420,1290" stroke-width="30"/>
<path d="M620,480C660,560 680,700 660,860C600,900 560,1000 540,1100C520,1200 470,1280 420,1290" stroke-width="22"/>
<path d="M230,620C300,760 480,720 580,600M220,760C320,860 520,820 640,640M300,860C400,900 560,880 650,860M240,960C340,1040 480,1000 560,900M230,1060C330,1140 460,1100 540,1000M210,1160C300,1230 420,1200 500,1120M330,560C310,700 260,840 200,900" stroke-width="21"/>
<path d="M250,1230C300,1270 380,1270 440,1210M200,1000C190,1100 200,1180 250,1250" stroke-width="30"/>
<path d="M620,500C700,560 760,600 860,620C920,600 940,480 950,340L900,330C880,430 870,520 830,560C760,560 700,520 650,470"/>
<path d="M880,190C900,160 960,170 975,200L960,290L900,300Z" fill="#8a3a2a"/><path d="M905,90L935,90L940,190L900,190Z" fill="#8a3a2a"/>
<path d="M670,340C670,310 700,310 720,320L1130,320C1150,305 1170,320 1165,345C1150,365 1130,350 1120,340L720,345C700,360 675,365 670,340Z"/>
<path d="M700,360L600,690M700,360L810,680M590,690C650,730 760,730 830,685Z M1125,360L1010,690M1125,360L1250,690M1000,690C1060,740 1190,740 1255,690Z"/>
</g>
</svg>
</body></html>
